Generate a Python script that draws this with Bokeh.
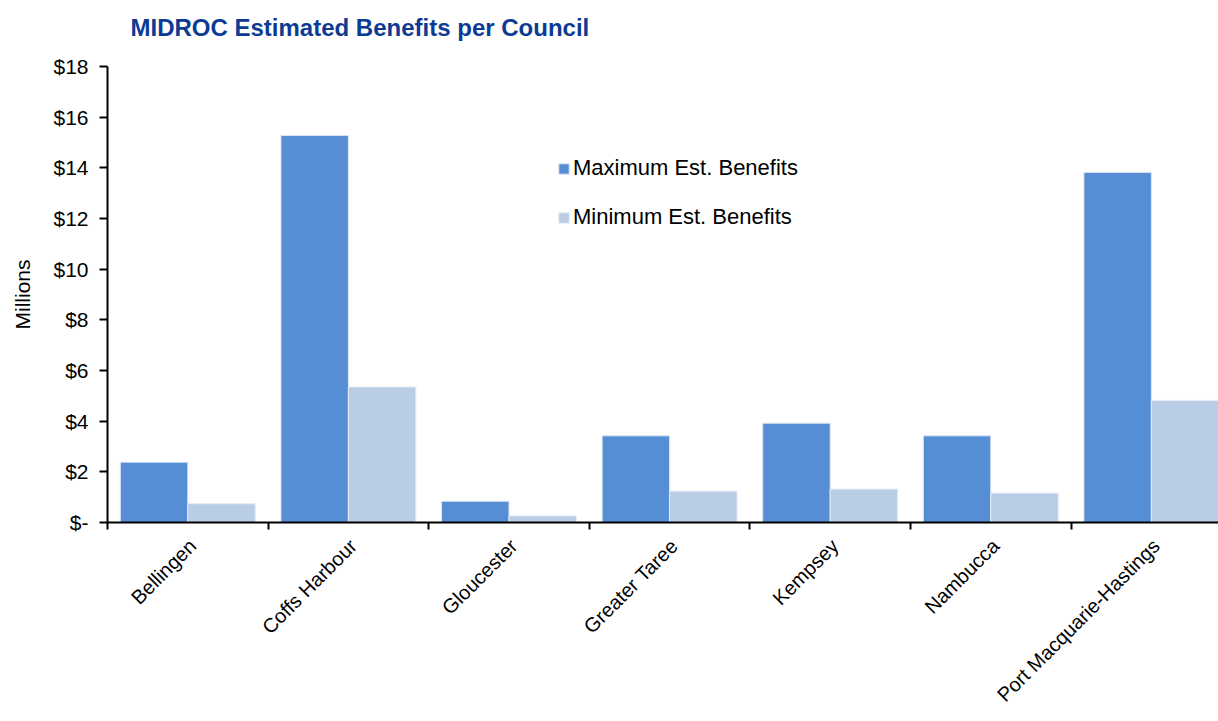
import math
from bokeh.plotting import figure
from bokeh.models import Range1d, FixedTicker, Legend, LegendItem, ColumnDataSource, Title
from bokeh.transform import dodge
from bokeh.embed import file_html
from bokeh.resources import INLINE

# ---- data ----
councils = ["Bellingen", "Coffs Harbour", "Gloucester", "Greater Taree",
            "Kempsey", "Nambucca", "Port Macquarie-Hastings"]
max_benefits = [2.38, 15.28, 0.84, 3.42, 3.92, 3.42, 13.82]
min_benefits = [0.74, 5.35, 0.26, 1.24, 1.32, 1.16, 4.82]
y_ticks = [0, 2, 4, 6, 8, 10, 12, 14, 16, 18]
y_tick_labels = ["$-", "$2", "$4", "$6", "$8", "$10", "$12", "$14", "$16", "$18"]
series_names = ["Maximum Est. Benefits", "Minimum Est. Benefits"]
title_text = "MIDROC Estimated Benefits per Council"
y_title = "Millions"

FONT = "Liberation Sans"
C_MAX = "#558ED5"
C_MIN = "#B9CDE5"

centers = [i + 0.5 for i in range(len(councils))]
label_pos = [c + 0.03 for c in centers]
source = ColumnDataSource(dict(x=centers, mx=max_benefits, mn=min_benefits, name=councils))

p = figure(width=1218, height=721,
           x_range=Range1d(0, 6.918), y_range=Range1d(0, 18),
           output_backend="svg", toolbar_location=None,
           min_border_left=107, min_border_right=0,
           min_border_top=66, min_border_bottom=199,
           background_fill_color="white", border_fill_color="white")
p.outline_line_color = None
p.xgrid.visible = False
p.ygrid.visible = False

r_max = p.vbar(x=dodge("x", -0.21, range=p.x_range), top="mx", width=0.42, bottom=0,
               source=source, fill_color=C_MAX, line_color="#DCE6F2", line_width=1)
r_min = p.vbar(x=dodge("x", 0.21, range=p.x_range), top="mn", width=0.42, bottom=0,
               source=source, fill_color=C_MIN, line_color="#E4ECF6", line_width=1)

# real title (figure's own title slot)
p.title.text = title_text
p.title.text_font = FONT
p.title.text_font_size = "24px"
p.title.text_font_style = "bold"
p.title.text_color = "#0D3B94"
p.title.align = "left"
p.title.vertical_align = "top"
p.title.offset = 23
p.title.standoff = 21

# blank spacer panel between the title and the frame
spacer = Title(text=" ", text_font_size="10px", standoff=0)
p.add_layout(spacer, "above")

# y axis
ya = p.yaxis[0]
ya.ticker = FixedTicker(ticks=y_ticks, minor_ticks=[])
ya.major_label_overrides = {t: l for t, l in zip(y_ticks, y_tick_labels)}
ya.major_label_text_font = FONT
ya.major_label_text_font_size = "21px"
ya.major_label_text_color = "black"
ya.major_label_standoff = 11
ya.axis_line_width = 2
ya.axis_line_color = "black"
ya.major_tick_line_width = 2
ya.major_tick_line_color = "black"
ya.major_tick_out = 8
ya.major_tick_in = 0
ya.minor_tick_line_color = None
ya.axis_label = y_title
ya.axis_label_text_font = FONT
ya.axis_label_text_font_size = "21px"
ya.axis_label_text_font_style = "normal"
ya.axis_label_text_color = "black"
ya.axis_label_standoff = 16

# x axis
xa = p.xaxis[0]
xa.ticker = FixedTicker(ticks=label_pos, minor_ticks=list(range(len(councils) + 1)))
xa.major_label_overrides = {c: n for c, n in zip(label_pos, councils)}
xa.major_label_orientation = math.pi / 4
xa.major_label_text_font = FONT
xa.major_label_text_font_size = "20px"
xa.major_label_text_color = "black"
xa.major_label_standoff = 13
xa.major_tick_out = 0
xa.major_tick_in = 0
xa.major_tick_line_color = None
xa.minor_tick_out = 7
xa.minor_tick_in = 0
xa.minor_tick_line_width = 2
xa.minor_tick_line_color = "black"
xa.axis_line_width = 2
xa.axis_line_color = "black"

legend = Legend(items=[LegendItem(label=series_names[0], renderers=[r_max]),
                       LegendItem(label=series_names[1], renderers=[r_min])],
                location=(450, 292))
legend.label_text_font = FONT
legend.label_text_font_size = "22px"
legend.label_text_color = "black"
legend.glyph_width = 13
legend.glyph_height = 13
legend.label_standoff = 3
legend.spacing = 23
legend.padding = 0
legend.margin = 0
legend.border_line_color = None
legend.background_fill_alpha = 0
p.add_layout(legend, "center")

open("out.html", "w").write(file_html(p, INLINE))
